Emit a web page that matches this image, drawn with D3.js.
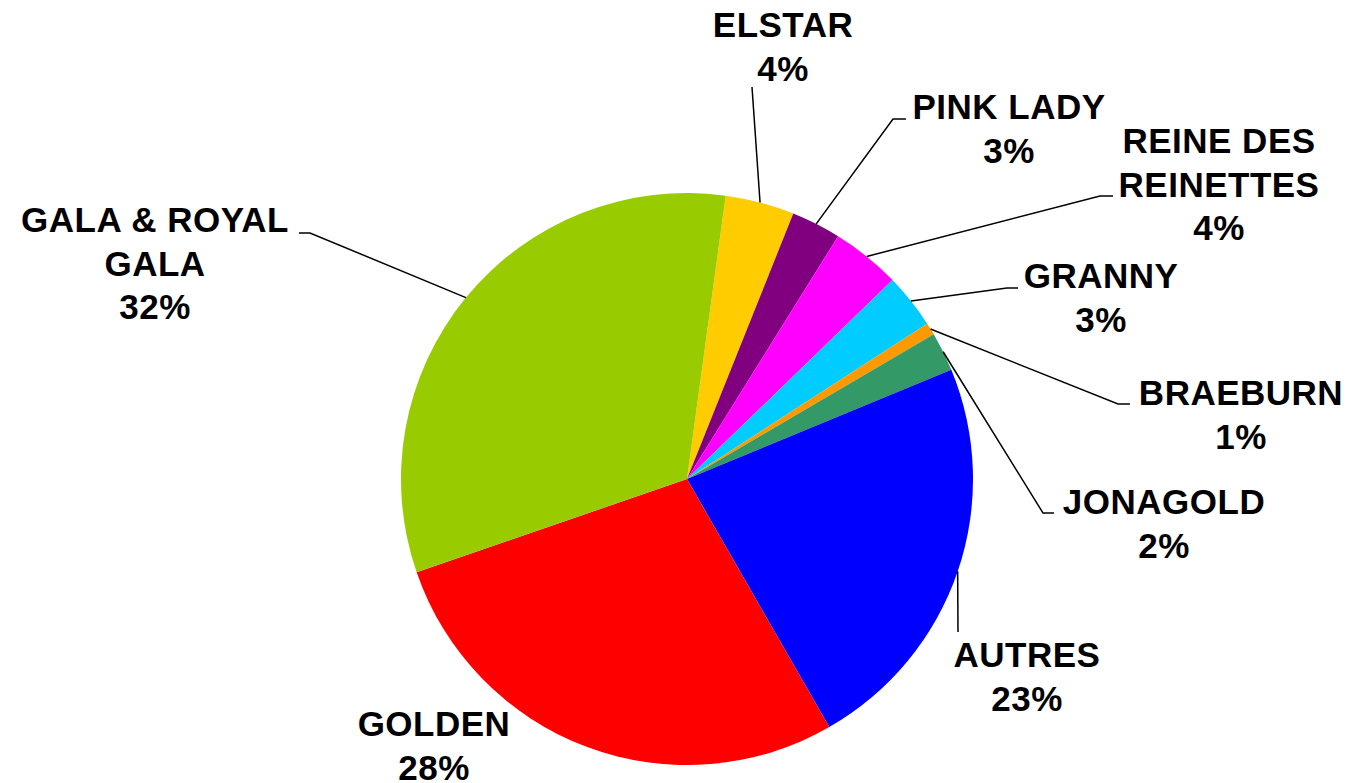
<!DOCTYPE html>
<html>
<head>
<meta charset="utf-8">
<script src="https://cdn.jsdelivr.net/npm/d3@7"></script>
<style>
  body { margin: 0; background: #fff; }
  #pie-holder text { font-family: "Liberation Sans", Arial, sans-serif; font-weight: bold; }
</style>
</head>
<body>
<div id="pie-holder"></div>
<script>
// apple varieties, in the order they go round the pie (clockwise)
var categories = ["ELSTAR", "PINK LADY", "REINE DES\nREINETTES", "GRANNY", "BRAEBURN",
                  "JONAGOLD", "AUTRES", "GOLDEN", "GALA & ROYAL\nGALA"];
// share of each variety, in percent
var shares = [3.9, 2.8, 3.9, 3.1, 0.7, 2.2, 22.95, 28.0, 32.45];
var colors = ["#FFCC00", "#800080", "#FF00FF", "#00CCFF", "#FF9900",
              "#339966", "#0000FF", "#FF0000", "#99CC00"];

// set dimensions of the chart
var width = 1353, height = 783;
var cx = 687, cy = 479, radius = 286;
var fontSize = 35, lineHeight = 43.5;

// where each label sits (text centre x, first baseline y) and the bend/end of its leader line
var labelLayout = [
  { x: 783, y: 37, leader: [[752, 87]] },
  { x: 1009, y: 119, leader: [[893, 119], [906, 119]] },
  { x: 1219, y: 153, leader: [[1100, 196], [1113, 196]] },
  { x: 1101, y: 288, leader: [[1007, 288], [1018, 288]] },
  { x: 1241, y: 405, leader: [[1118, 404], [1130, 404]] },
  { x: 1164, y: 514, leader: [[1043, 513], [1054, 513]] },
  { x: 1027, y: 667, leader: [[958, 632]] },
  { x: 434, y: 736, leader: null },
  { x: 155, y: 232, leader: [[310, 233], [299, 233]] }
];

var total = d3.sum(shares);

var data = categories.map(function (c, i) {
  return { name: c, value: shares[i], color: colors[i], layout: labelLayout[i] };
});

var svg = d3.select("#pie-holder").append("svg")
  .attr("width", width)
  .attr("height", height);

var g = svg.append("g")
  .attr("transform", "translate(" + cx + "," + cy + ")");

// first slice starts a little past 12 o'clock
var pie = d3.pie()
  .sort(null)
  .value(function (d) { return d.value; })
  .startAngle(7.78 * Math.PI / 180)
  .endAngle(7.78 * Math.PI / 180 + 2 * Math.PI);

var arc = d3.arc()
  .innerRadius(0)
  .outerRadius(radius);

var arcs = pie(data);

// draw slices
g.selectAll("path.slice")
  .data(arcs)
  .enter()
  .append("path")
  .attr("class", "slice")
  .attr("d", arc)
  .attr("fill", function (d) { return d.data.color; });

// leader lines start on the rim at the middle of each slice
svg.selectAll("path.leader")
  .data(arcs.filter(function (d) { return d.data.layout.leader; }))
  .enter()
  .append("path")
  .attr("class", "leader")
  .attr("fill", "none")
  .attr("stroke", "#000")
  .attr("stroke-width", 1.5)
  .attr("d", function (d) {
    var a = (d.startAngle + d.endAngle) / 2;
    var pts = [[cx + radius * Math.sin(a), cy - radius * Math.cos(a)]].concat(d.data.layout.leader);
    return d3.line()(pts);
  });

// labels: name lines then percentage
var labels = svg.selectAll("text.label")
  .data(arcs)
  .enter()
  .append("text")
  .attr("class", "label")
  .attr("text-anchor", "middle")
  .style("font-size", fontSize + "px")
  .style("letter-spacing", "0.5px")
  .attr("fill", "#000");

labels.each(function (d) {
  var lines = d.data.name.split("\n");
  lines.push(Math.round(d.data.value / total * 100) + "%");
  var t = d3.select(this);
  lines.forEach(function (line, i) {
    t.append("tspan")
      .attr("x", d.data.layout.x)
      .attr("y", d.data.layout.y + i * lineHeight)
      .text(line);
  });
});
</script>
</body>
</html>
